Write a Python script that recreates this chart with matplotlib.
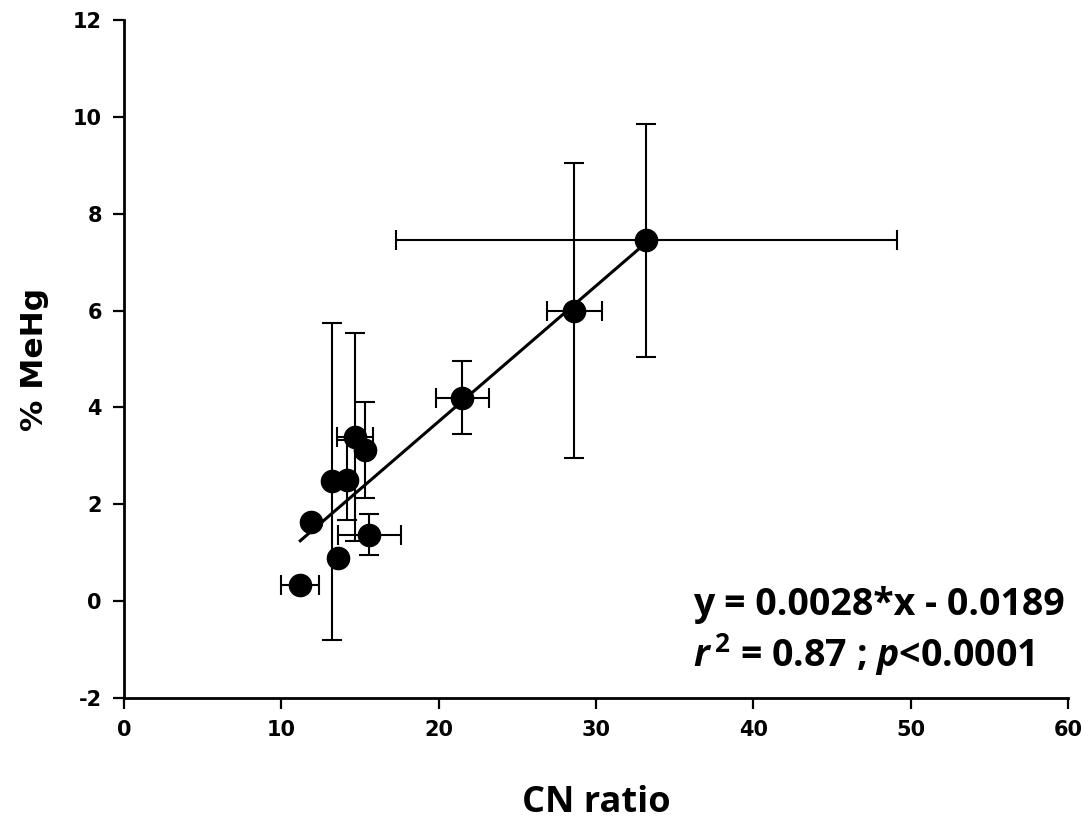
import matplotlib.pyplot as plt
import numpy as np

plt.rcParams['axes.unicode_minus'] = False
plt.rcParams['mathtext.fontset'] = 'custom'
plt.rcParams['mathtext.it'] = 'Open Sans:bold:italic'
plt.rcParams['mathtext.rm'] = 'Open Sans:bold'

# CN ratio (x) and %MeHg (y) with their error bars
cn = [33.2, 28.6, 21.5, 14.7, 15.3, 13.2, 14.2, 15.6, 11.9, 11.2, 13.6]
cn_err = [15.9, 1.75, 1.7, 1.15, 0.0, 0.0, 0.0, 2.0, 0.0, 1.2, 0.0]
mehg = [7.45, 6.0, 4.2, 3.39, 3.12, 2.47, 2.5, 1.37, 1.63, 0.33, 0.89]
mehg_err = [2.4, 3.05, 0.75, 2.14, 1.0, 3.27, 0.83, 0.42, 0.0, 0.0, 0.0]

# regression (fraction units in the equation, plotted as %)
slope = 0.0028
intercept = -0.0189

x_ticks = [0, 10, 20, 30, 40, 50, 60]
y_ticks = [-2, 0, 2, 4, 6, 8, 10, 12]

fig = plt.figure(figsize=(10.91, 8.25), dpi=100)
ax = fig.add_axes([0.1137, 0.154, 0.8653, 0.8218])

ax.errorbar(cn, mehg, xerr=cn_err, yerr=mehg_err, fmt='o', color='black',
            markersize=16, elinewidth=1.5, capsize=7.5, capthick=1.5, zorder=3)

xl = np.array([min(cn), max(cn)])
ax.plot(xl, (slope * xl + intercept) * 100, color='black', linewidth=2.2, zorder=2)

ax.set_xlim(0, 60)
ax.set_ylim(-2, 12)
ax.set_xticks(x_ticks)
ax.set_yticks(y_ticks)
for s in ['top', 'right']:
    ax.spines[s].set_visible(False)
for s in ['left', 'bottom']:
    ax.spines[s].set_linewidth(2)
ax.tick_params(direction='out', length=8, width=1.6, labelsize=15, pad=8)
for lab in ax.get_xticklabels() + ax.get_yticklabels():
    lab.set_fontweight('bold')

ax.set_xlabel('CN ratio', fontsize=26, fontweight='bold', family='Open Sans', labelpad=32)
ax.set_ylabel('% MeHg', fontsize=22.5, fontweight='bold', labelpad=17)

ax.text(36.17, -0.29, 'y = 0.0028*x - 0.0189', fontsize=27, fontweight='bold',
        family='Open Sans', ha='left', va='baseline')
ax.text(36.17, -1.36, r'$r^{\,2}$ = 0.87 ; $p$<0.0001', fontsize=27, fontweight='bold',
        family='Open Sans', ha='left', va='baseline')

fig.savefig('out.png', dpi=100)
